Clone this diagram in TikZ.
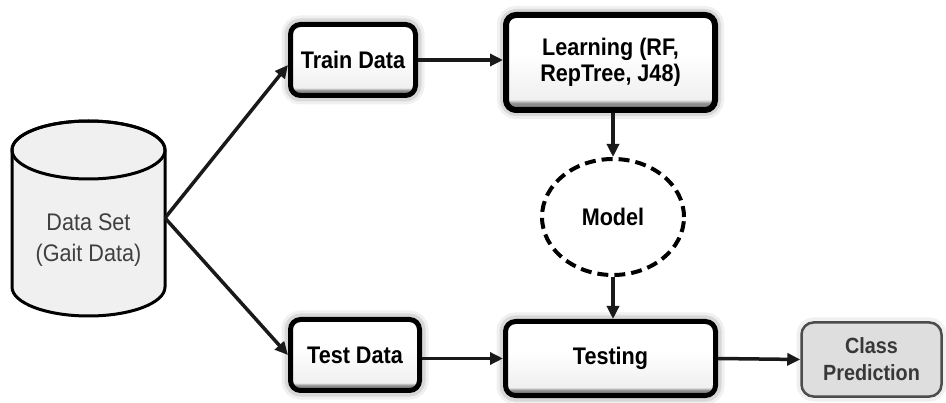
\documentclass[tikz,border=0pt]{standalone}
\usepackage{fontspec}
\setmainfont{Liberation Sans}
\newfontfamily\lblfont[FakeStretch=0.9]{Liberation Sans}
\usetikzlibrary{arrows.meta,shapes.geometric}
\pgfdeclareverticalshading{bevel}{100bp}{color(0bp)=(black!45); color(28.5bp)=(black!45); color(30.5bp)=(black!6); color(55bp)=(white); color(100bp)=(white)}
\begin{document}
\begin{tikzpicture}[x=1pt,y=1pt,
  box/.style={draw=black, line width=5pt, rounded corners=10pt, shade, shading=bevel,
    align=center, font=\lblfont\bfseries\fontsize{24}{26}\selectfont, inner sep=0pt,
    preaction={draw=black, line width=18pt, opacity=0.06},
    preaction={draw=black, line width=12pt, opacity=0.10}},
  conn/.style={line width=3.5pt, draw=black!90, -{Triangle[length=13pt,width=12pt]}},
  cyl/.style={fill=black!6, draw=black, line width=3pt},
]
\useasboundingbox (0,0) rectangle (946,402);
% data set cylinder
\path[cyl] (12,252) -- (12,115) arc[start angle=180,end angle=360,x radius=76.5,y radius=29]
  -- (165,252) arc[start angle=0,end angle=180,x radius=76.5,y radius=29] -- cycle;
\draw[line width=3pt] (88.5,252) ellipse[x radius=76.5,y radius=29];
\node[font=\lblfont\fontsize{24}{31}\selectfont, text=black!75, align=center] (ds) at (88.5,162) {Data Set\\(Gait Data)};
\coordinate (dsr) at (165,184);
% boxes
\node[box, minimum width=125, minimum height=71] (train) at (353,342) {Train Data};
\node[box, line width=6pt, minimum width=209, minimum height=95] (learn) at (610.5,339.5) {Learning (RF,\\RepTree, J48)};
\node[box, minimum width=129, minimum height=71] (test) at (355,47) {Test Data};
\node[box, minimum width=210, minimum height=74] (testing) at (610.5,43.5) {Testing};
\node[draw=black!70, line width=2.5pt, fill=black!13, rounded corners=12pt, align=center,
  font=\lblfont\bfseries\fontsize{22}{27}\selectfont, text=black!78, inner sep=0pt,
  minimum width=140, minimum height=74,
  preaction={draw=black, line width=10pt, opacity=0.06}] (class) at (871.5,42.5) {Class\\Prediction};
\node[ellipse, draw=black, fill=white, line width=4pt, dash pattern=on 11pt off 6pt,
  minimum width=142, minimum height=116, inner sep=0pt,
  font=\lblfont\bfseries\fontsize{24}{25}\selectfont] (model) at (613,185) {Model};
% connectors
\draw[conn] (dsr) -- ([yshift=-5pt]train.west);
\draw[conn] (dsr) -- (test.west);
\draw[conn] (train.east) -- (train.east -| learn.west);
\draw[conn] (model.north |- learn.south) -- (model.north);
\draw[conn] (model.south) -- (model.south |- testing.north);
\draw[conn] (testing.west -| test.east) -- (testing.west);
\draw[conn] (testing.east) -- (class.west);
\end{tikzpicture}
\end{document}
